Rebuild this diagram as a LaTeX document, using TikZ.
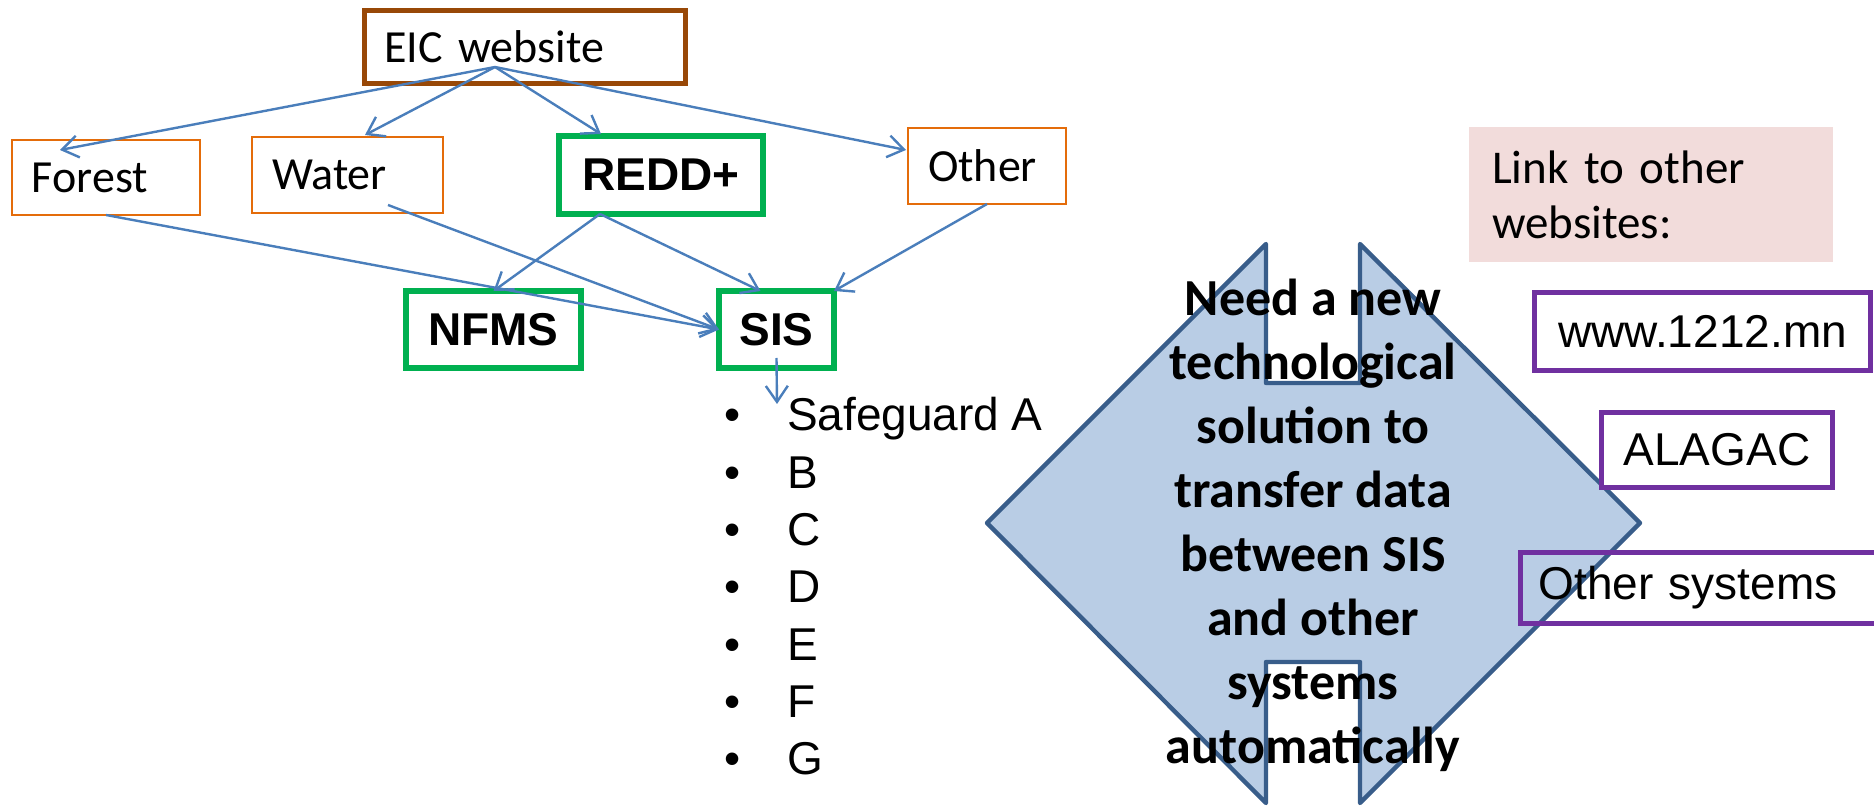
\documentclass[tikz,border=0pt]{standalone}
\usepackage{fontspec}
\setmainfont{Carlito}
\newfontfamily\arialfont{Liberation Sans}
\usetikzlibrary{arrows.meta}
\definecolor{eicbrown}{RGB}{152,72,7}
\definecolor{topicorange}{RGB}{228,108,10}
\definecolor{keygreen}{RGB}{0,176,80}
\definecolor{linkblue}{RGB}{74,126,187}
\definecolor{shapefill}{RGB}{185,205,229}
\definecolor{shapeline}{RGB}{56,93,138}
\definecolor{sitepurple}{RGB}{112,48,160}
\definecolor{notepink}{RGB}{242,220,219}
\begin{document}
\begin{tikzpicture}[x=0.5pt, y=-0.5pt,
    every node/.style={inner sep=0pt, outer sep=0pt},
    topicbox/.style={draw=topicorange, line width=1pt, inner xsep=10pt, align=left,
        font=\fontsize{23}{28}\selectfont},
    keybox/.style={draw=keygreen, line width=2.75pt,
        font=\arialfont\bfseries\fontsize{23}{28}\selectfont},
    sitebox/.style={draw=sitepurple, line width=2.5pt,
        font=\arialfont\fontsize{23}{28}\selectfont},
    listtext/.style={font=\arialfont\fontsize{23}{28}\selectfont},
    link/.style={draw=linkblue, line width=1.2pt, -{Straight Barb[length=8pt,width=11pt]}}]

        \clip (0,0) rectangle (1874,807);

        % transfer shape
        \draw[fill=shapefill, draw=shapeline, line width=2.2pt, line join=round]
            (987,523) -- (1266,244) -- (1266,383) -- (1360,383) -- (1360,244) -- (1640,523)
            -- (1360,803) -- (1360,662) -- (1266,662) -- (1266,803) -- cycle;

        % websites
        \node[draw=eicbrown, line width=2.5pt, inner xsep=10pt, text width=140.5pt, align=left,
            minimum height=36.5pt, font=\fontsize{23}{28}\selectfont] (eic) at (525,47) {EIC website};
        \node[topicbox, text width=74pt, minimum height=37.5pt] (forest) at (106,177.5) {Forest};
        \node[topicbox, text width=75.5pt, minimum height=38pt] (water) at (347.5,175) {Water};
        \node[topicbox, text width=59pt, minimum height=38pt] (other) at (987,166) {Other};
        \node[keybox, minimum width=102pt, minimum height=39pt] (redd) at (661,175) {REDD+};
        \node[keybox, minimum width=87.5pt, minimum height=38.5pt] (nfms) at (493.5,329.5) {NFMS};
        \node[keybox, minimum width=57.5pt, minimum height=38.5pt] (sis) at (776.5,329.5) {SIS};

        % safeguards
        \foreach \lbl [count=\i] in {Safeguard A,B,C,D,E,F,G} {
            \node[listtext, anchor=base] (dot\i) at (733,{431+57.3*(\i-1)}) {\textbullet};
            \node[listtext, anchor=base west] (sg\i) at (787,{431+57.3*(\i-1)}) {\lbl};
        }

        % other websites
        \node[fill=notepink, inner xsep=11.5pt, text width=159pt, align=left, minimum height=67.5pt,
            font=\fontsize{23.5}{27.5}\selectfont] (note) at (1651,194.5) {Link to other\\websites:};
        \node[sitebox, minimum width=168pt, minimum height=39pt] (www) at (1702.5,331.5) {www.1212.mn};
        \node[sitebox, fill=white, minimum width=115.5pt, minimum height=37.5pt] (alagac) at (1717,450) {ALAGAC};
        \node[sitebox, inner xsep=9pt, text width=171.75pt, align=left, minimum height=35.5pt]
            (systems) at (1710.25,588) {Other systems};

        \node[anchor=base, align=center, font=\bfseries\fontsize{26}{32}\selectfont] (need) at (1313,763)
            {Need a new\\technological\\solution to\\transfer data\\between SIS\\and other\\systems\\automatically};

        % connectors
        \coordinate (eicsrc) at (495,67);
        \coordinate (forestin) at (60,150);
        \coordinate (waterin) at (365,135);
        \coordinate (reddin) at (601,134);
        \coordinate (otherin) at (906,150);
        \coordinate (waterout) at (388,205);
        \coordinate (reddout) at (600,214);
        \coordinate (sgtop) at (777,404);

        \draw[link] (eicsrc) -- (forestin);
        \draw[link] (eicsrc) -- (waterin);
        \draw[link] (eicsrc) -- (reddin);
        \draw[link] (eicsrc) -- (otherin);
        \draw[link] (forest.south) -- (sis.west);
        \draw[link] (waterout) -- (sis.west);
        \draw[link] (reddout) -- (nfms.north);
        \draw[link] (reddout) -- ([xshift=-8pt]sis.north);
        \draw[link] (other.south) -- (sis.north east);
        \draw[link] ([yshift=5pt]sis.south) -- (sgtop);
    \end{tikzpicture}
\end{document}
